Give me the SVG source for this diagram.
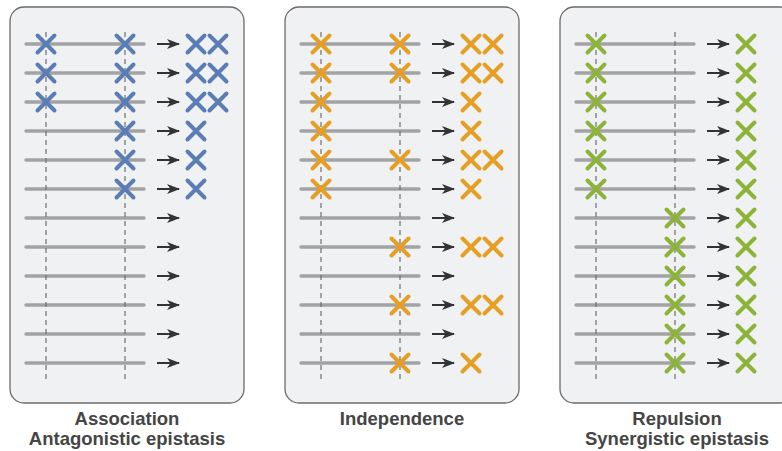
<svg xmlns="http://www.w3.org/2000/svg" xmlns:xlink="http://www.w3.org/1999/xlink" width="782" height="451" viewBox="0 0 782 451">
<style>
.panel{fill:#f0f1f3;stroke:#6b6b6b;stroke-width:1.3}
.chrom{stroke:#a3a3a3;stroke-width:3.4;stroke-linecap:round}
.locus{stroke:#6e6e6e;stroke-width:1.2;stroke-dasharray:5,4}
.arr{stroke:#333;stroke-width:2}
.xb{stroke:#5b7db5;stroke-width:4;stroke-linecap:round;fill:none}
.xo{stroke:#e69f25;stroke-width:4;stroke-linecap:round;fill:none}
.xg{stroke:#8db33a;stroke-width:4;stroke-linecap:round;fill:none}
.lbl{font-family:"Liberation Sans",Arial,sans-serif;font-weight:bold;font-size:18.5px;fill:#454545;text-anchor:middle}
</style>
<defs>
<path id="x" d="M-8.5,-8.5L8.5,8.5M-8.5,8.5L8.5,-8.5"/>
<marker id="ah" viewBox="0 0 13 10" refX="12" refY="5" markerWidth="13" markerHeight="10" markerUnits="userSpaceOnUse" orient="auto">
<path d="M0,0L13,5L0,10L3.5,5Z" fill="#333"/>
</marker>
<g id="row">
<line class="chrom" x1="26" y1="0" x2="144" y2="0"/>
<line class="arr" x1="157" y1="0" x2="179" y2="0" marker-end="url(#ah)"/>
</g>
</defs>
<g id="panel-association">
<rect class="panel" x="10" y="7" width="234" height="396" rx="14"/>
<g>
<use href="#row" y="44"/><use href="#row" y="73"/><use href="#row" y="102"/><use href="#row" y="131"/><use href="#row" y="160"/><use href="#row" y="189"/><use href="#row" y="218"/><use href="#row" y="247"/><use href="#row" y="276"/><use href="#row" y="305"/><use href="#row" y="334"/><use href="#row" y="363"/>
</g>
<line class="locus" x1="46" y1="32" x2="46" y2="380"/>
<line class="locus" x1="125" y1="32" x2="125" y2="380"/>
<g class="xb">
<use href="#x" x="46" y="44"/><use href="#x" x="125" y="44"/><use href="#x" x="196" y="44"/><use href="#x" x="218" y="44"/>
<use href="#x" x="46" y="73"/><use href="#x" x="125" y="73"/><use href="#x" x="196" y="73"/><use href="#x" x="218" y="73"/>
<use href="#x" x="46" y="102"/><use href="#x" x="125" y="102"/><use href="#x" x="196" y="102"/><use href="#x" x="218" y="102"/>
<use href="#x" x="125" y="131"/><use href="#x" x="196" y="131"/>
<use href="#x" x="125" y="160"/><use href="#x" x="196" y="160"/>
<use href="#x" x="125" y="189"/><use href="#x" x="196" y="189"/>
</g>
<text class="lbl" x="127" y="425">Association</text>
<text class="lbl" x="127" y="445">Antagonistic epistasis</text>
</g>
<g id="panel-independence">
<rect class="panel" x="285" y="7" width="234" height="396" rx="14"/>
<g transform="translate(275,0)">
<use href="#row" y="44"/><use href="#row" y="73"/><use href="#row" y="102"/><use href="#row" y="131"/><use href="#row" y="160"/><use href="#row" y="189"/><use href="#row" y="218"/><use href="#row" y="247"/><use href="#row" y="276"/><use href="#row" y="305"/><use href="#row" y="334"/><use href="#row" y="363"/>
</g>
<line class="locus" x1="321" y1="32" x2="321" y2="380"/>
<line class="locus" x1="400" y1="32" x2="400" y2="380"/>
<g class="xo">
<use href="#x" x="321" y="44"/><use href="#x" x="400" y="44"/><use href="#x" x="471" y="44"/><use href="#x" x="493" y="44"/>
<use href="#x" x="321" y="73"/><use href="#x" x="400" y="73"/><use href="#x" x="471" y="73"/><use href="#x" x="493" y="73"/>
<use href="#x" x="321" y="102"/><use href="#x" x="471" y="102"/>
<use href="#x" x="321" y="131"/><use href="#x" x="471" y="131"/>
<use href="#x" x="321" y="160"/><use href="#x" x="400" y="160"/><use href="#x" x="471" y="160"/><use href="#x" x="493" y="160"/>
<use href="#x" x="321" y="189"/><use href="#x" x="471" y="189"/>
<use href="#x" x="400" y="247"/><use href="#x" x="471" y="247"/><use href="#x" x="493" y="247"/>
<use href="#x" x="400" y="305"/><use href="#x" x="471" y="305"/><use href="#x" x="493" y="305"/>
<use href="#x" x="400" y="363"/><use href="#x" x="471" y="363"/>
</g>
<text class="lbl" x="402" y="425">Independence</text>
</g>
<g id="panel-repulsion">
<rect class="panel" x="560" y="7" width="234" height="396" rx="14"/>
<g transform="translate(550,0)">
<use href="#row" y="44"/><use href="#row" y="73"/><use href="#row" y="102"/><use href="#row" y="131"/><use href="#row" y="160"/><use href="#row" y="189"/><use href="#row" y="218"/><use href="#row" y="247"/><use href="#row" y="276"/><use href="#row" y="305"/><use href="#row" y="334"/><use href="#row" y="363"/>
</g>
<line class="locus" x1="596" y1="32" x2="596" y2="380"/>
<line class="locus" x1="675" y1="32" x2="675" y2="380"/>
<g class="xg">
<use href="#x" x="596" y="44"/><use href="#x" x="746" y="44"/>
<use href="#x" x="596" y="73"/><use href="#x" x="746" y="73"/>
<use href="#x" x="596" y="102"/><use href="#x" x="746" y="102"/>
<use href="#x" x="596" y="131"/><use href="#x" x="746" y="131"/>
<use href="#x" x="596" y="160"/><use href="#x" x="746" y="160"/>
<use href="#x" x="596" y="189"/><use href="#x" x="746" y="189"/>
<use href="#x" x="675" y="218"/><use href="#x" x="746" y="218"/>
<use href="#x" x="675" y="247"/><use href="#x" x="746" y="247"/>
<use href="#x" x="675" y="276"/><use href="#x" x="746" y="276"/>
<use href="#x" x="675" y="305"/><use href="#x" x="746" y="305"/>
<use href="#x" x="675" y="334"/><use href="#x" x="746" y="334"/>
<use href="#x" x="675" y="363"/><use href="#x" x="746" y="363"/>
</g>
<text class="lbl" x="677" y="425">Repulsion</text>
<text class="lbl" x="677" y="445">Synergistic epistasis</text>
</g>
</svg>
